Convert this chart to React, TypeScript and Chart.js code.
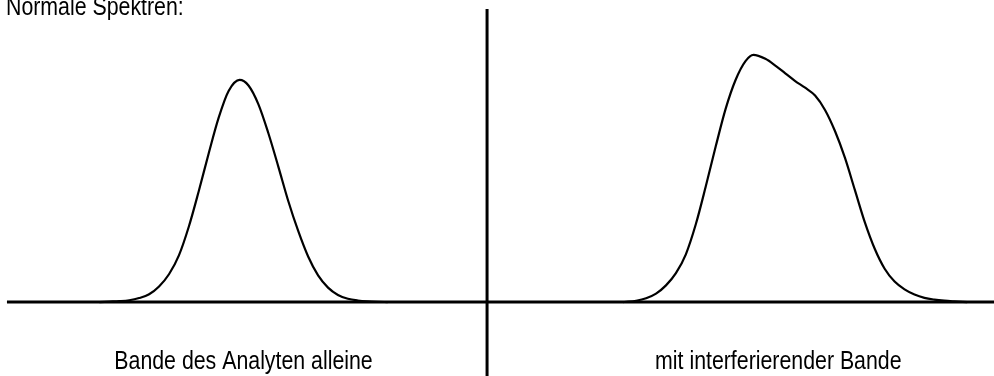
import React, { useEffect, useRef } from "react";
import { Chart, registerables } from "chart.js";

Chart.register(...registerables);

// Abscissa in arbitrary spectral units (0–100 across the figure), absorbance on y.
const analyteX = [10, 11, 12, 13, 14, 15, 16, 17, 18, 19, 20, 21, 22, 23, 24.1, 25, 26, 27, 28, 29, 30, 31, 32, 33, 34, 35, 36, 37, 38, 39];
const analyteY = [0, 0.002, 0.004, 0.008, 0.018, 0.035, 0.07, 0.125, 0.21, 0.34, 0.5, 0.67, 0.83, 0.95, 1.0, 0.975, 0.89, 0.76, 0.61, 0.455, 0.32, 0.205, 0.12, 0.065, 0.032, 0.015, 0.007, 0.003, 0.001, 0];

const mixedX = [62.7, 63, 64, 65, 66, 67, 68, 69, 70, 71, 72, 73, 74, 75, 75.8, 77, 78, 79, 80, 81, 82, 83, 84, 85, 86, 87, 88, 89, 90, 91, 92, 93, 94, 95, 96, 97.3];
const mixedY = [0, 0.001, 0.006, 0.017, 0.038, 0.075, 0.13, 0.215, 0.35, 0.52, 0.7, 0.87, 1.0, 1.085, 1.113, 1.095, 1.065, 1.03, 0.995, 0.965, 0.93, 0.865, 0.77, 0.65, 0.505, 0.36, 0.24, 0.15, 0.092, 0.057, 0.034, 0.019, 0.011, 0.006, 0.003, 0];

// Axis extents
const xMin = 0;
const xMax = 100;
const yMin = -0.333;
const yMax = 1.36;
const baselineStart = 0.7;
const dividerX = 49.0;
const dividerTop = 1.32;

const titleText = "Normale Spektren:";
const panelLabels = ["Bande des Analyten alleine", "mit interferierender Bande"];
const panelLabelX = [24.5, 78.3];

const FONT = "26px 'Liberation Sans', Arial, Helvetica, sans-serif";
const NARROW = 0.82;

const toPoints = (xs: number[], ys: number[]) => xs.map((x, i) => ({ x, y: ys[i] }));

const textPlugin = {
  id: "figureText",
  afterDraw(chart: any) {
    const { ctx } = chart;
    const xs = chart.scales.x;
    ctx.save();
    ctx.fillStyle = "#000";
    ctx.font = FONT;
    ctx.textBaseline = "alphabetic";

    const drawNarrow = (text: string, x: number, y: number, align: "left" | "center") => {
      ctx.save();
      ctx.translate(x, y);
      ctx.scale(NARROW, 1);
      ctx.textAlign = align;
      ctx.fillText(text, 0, 0);
      ctx.restore();
    };

    drawNarrow(titleText, 6, 15, "left");
    panelLabels.forEach((label, i) => {
      drawNarrow(label, xs.getPixelForValue(panelLabelX[i]), 369, "center");
    });
    ctx.restore();
  },
};

export default function App() {
  const canvasRef = useRef<HTMLCanvasElement | null>(null);

  useEffect(() => {
    if (!canvasRef.current) return;
    const curveStyle = {
      borderColor: "#000",
      borderWidth: 2.2,
      pointRadius: 0,
      fill: false,
      cubicInterpolationMode: "monotone" as const,
    };
    const axisStyle = {
      borderColor: "#000",
      borderWidth: 3,
      pointRadius: 0,
      fill: false,
      tension: 0,
    };
    const chart = new Chart(canvasRef.current, {
      type: "line",
      data: {
        datasets: [
          { ...axisStyle, data: [{ x: baselineStart, y: 0 }, { x: xMax, y: 0 }] },
          { ...axisStyle, data: [{ x: dividerX, y: yMin }, { x: dividerX, y: dividerTop }] },
          { ...curveStyle, data: toPoints(analyteX, analyteY) },
          { ...curveStyle, data: toPoints(mixedX, mixedY) },
        ],
      },
      options: {
        animation: false,
        responsive: false,
        devicePixelRatio: 1,
        layout: { padding: 0 },
        clip: false as any,
        plugins: { legend: { display: false }, tooltip: { enabled: false }, title: { display: false } },
        scales: {
          x: { type: "linear", min: xMin, max: xMax, display: false },
          y: { type: "linear", min: yMin, max: yMax, display: false },
        },
      },
      plugins: [textPlugin],
    });
    return () => chart.destroy();
  }, []);

  return (
    <div style={{ position: "fixed", left: 0, top: 0, width: 994, height: 376, background: "#fff" }}>
      <canvas ref={canvasRef} width={994} height={376} style={{ display: "block" }} />
    </div>
  );
}
